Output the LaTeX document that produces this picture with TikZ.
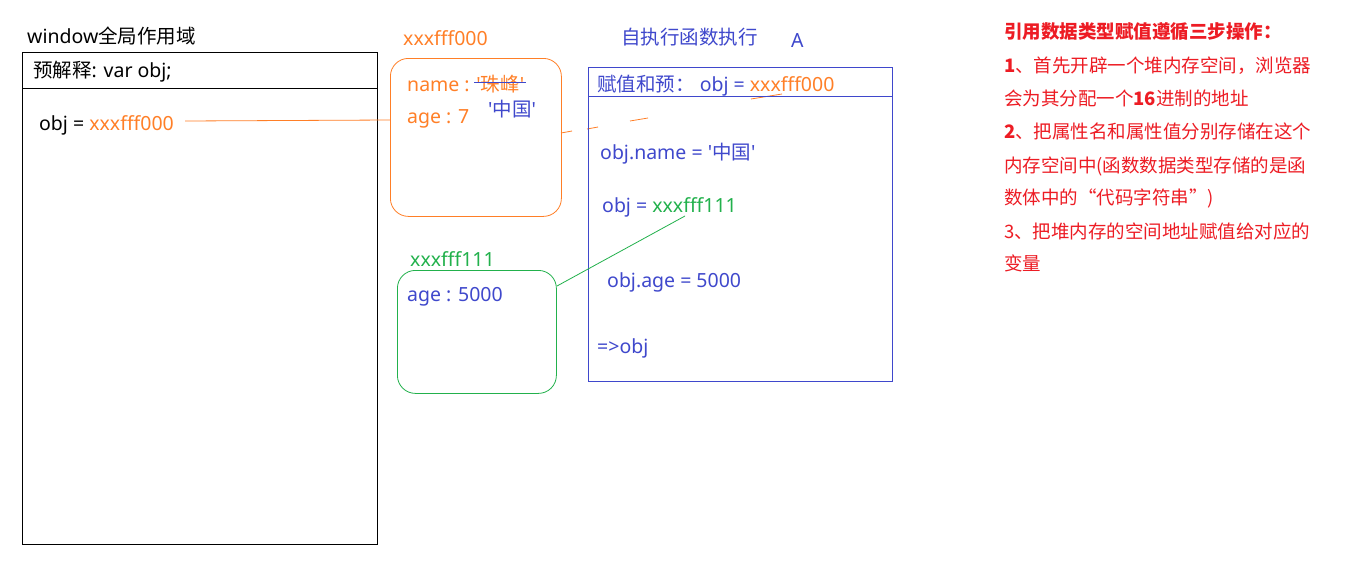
\documentclass[tikz,border=0pt]{standalone}
\usepackage{fontspec}
\setmainfont{Noto Sans}[Ligatures=TeXOff]
\newfontfamily\cjk{Noto Sans CJK SC}[Ligatures=TeXOff]
\usetikzlibrary{calc}
\definecolor{cor}{HTML}{FF7F27}
\definecolor{cbl}{HTML}{3F48CC}
\definecolor{cgr}{HTML}{22B14C}
\definecolor{cre}{HTML}{ED1C24}
\begin{document}
\begin{tikzpicture}[x=1pt,y=-1pt,
  txt/.style={anchor=base west, inner sep=0pt, font=\fontsize{19.5}{21}\selectfont},
  box/.style={draw, anchor=north west, inner sep=0pt, line width=0.8pt},
  rbox/.style={box, rounded corners=18pt}]
\useasboundingbox[fill=white] (0,0) rectangle (1346,562);

% left window box
\node[box, minimum width=355pt, minimum height=492pt] (win) at (22,52) {};
\draw[line width=0.8pt] ([yshift=-36pt]win.north west) -- ([yshift=-36pt]win.north east);
\node[txt] (wintitle) at (27,43) {window{\cjk 全局作用域}};
\node[txt] (pre) at (33,77) {{\cjk 预解释}: var obj;};
\node[txt] (objl) at (39,130) {obj = \textcolor{cor}{xxxfff000}};

% orange heap box
\node[rbox, draw=cor, minimum width=171pt, minimum height=158pt] (obox) at (390,58) {};
\node[txt, text=cor] (olabel) at (403,45) {xxxfff000};
\node[txt, text=cor] (oname) at (407,91) {name : '{\cjk 珠峰}'};
\draw[cbl, line width=0.8pt] (474,82) -- (526,82);
\node[txt, text=cor] (oage) at (407,123) {age : 7};
\node[txt, text=cbl] (ocn) at (488,116) {'{\cjk 中国}'};
\coordinate (ostart) at (185,121);
\coordinate (oin) at (390,120);
\draw[cor, line width=0.8pt] (ostart) -- (oin);

% orange remnants
\draw[cor, line width=0.8pt] (561,133) -- (572,131);
\draw[cor, line width=0.8pt] (587,129) -- (598,127);
\draw[cor, line width=0.8pt] (630,121) -- (648,118);
\draw[cor, line width=0.8pt] (751,99) -- (782,94);

% blue function box
\node[txt, text=cbl] (ftitle) at (621,44) {\cjk 自执行函数执行};
\node[txt, text=cbl] (fa) at (791,47) {A};
\node[box, draw=cbl, minimum width=304pt, minimum height=314pt] (fbox) at (588,67) {};
\draw[cbl, line width=0.8pt] ([yshift=-29pt]fbox.north west) -- ([yshift=-29pt]fbox.north east);
\node[txt, text=cbl] (fhead) at (597,91) {{\cjk 赋值和预：} obj = \textcolor{cor}{xxxfff000}};
\node[txt, text=cbl] (fl1) at (600,159) {obj.name = '{\cjk 中国}'};
\node[txt, text=cbl] (fl2) at (602,212) {obj = \textcolor{cgr}{xxxfff111}};
\node[txt, text=cbl] (fl3) at (607,287) {obj.age = 5000};
\node[txt, text=cbl] (fl4) at (597,353) {=>obj};

% green heap box
\node[rbox, draw=cgr, minimum width=159pt, minimum height=123pt] (gbox) at (397,270) {};
\node[txt, text=cgr] (glabel) at (410,266) {xxxfff111};
\node[txt, text=cbl] (gage) at (407,301) {age : 5000};
\coordinate (gfrom) at (685,216);
\coordinate (gto) at (557,286);
\draw[cgr, line width=0.8pt] (gfrom) -- (gto);

% right notes
\begin{scope}[every node/.append style={txt, text=cre, font=\fontsize{18.5}{20}\selectfont\cjk}]
\node (n0) at (1004,38) {\bfseries 引用数据类型赋值遵循三步操作：};
\node (n1) at (1004,72) {\bfseries 1\mdseries 、首先开辟一个堆内存空间，浏览器};
\node (n2) at (1004,105) {会为其分配一个\bfseries 16\mdseries 进制的地址};
\node (n3) at (1004,138) {\bfseries 2\mdseries 、把属性名和属性值分别存储在这个};
\node (n4) at (1004,172) {内存空间中(函数数据类型存储的是函};
\node (n5) at (1004,204) {数体中的“代码字符串”)};
\node (n6) at (1004,238) {3、把堆内存的空间地址赋值给对应的};
\node (n7) at (1004,270) {变量};
\end{scope}
\end{tikzpicture}
\end{document}
